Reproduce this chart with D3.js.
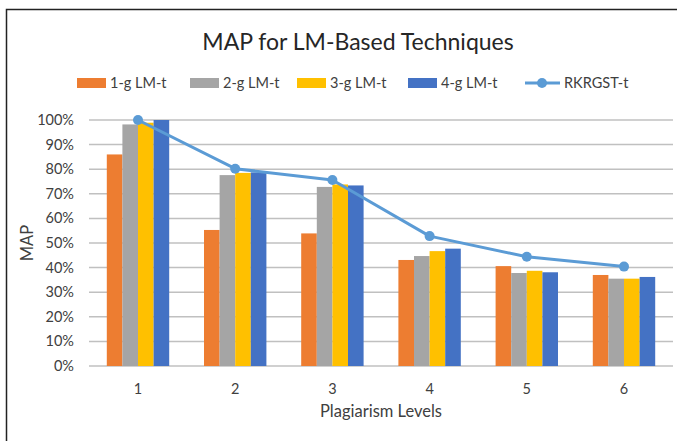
<!DOCTYPE html>
<html><head><meta charset="utf-8">
<script src="https://cdn.jsdelivr.net/npm/d3@7"></script>
<style>body{margin:0;background:#fff;}svg{display:block;}</style>
</head><body>
<svg id="c" width="677" height="441"></svg>
<script>
const categories = ["1","2","3","4","5","6"];
const seriesNames = ["1-g LM-t","2-g LM-t","3-g LM-t","4-g LM-t"];
const gram1 = [0.86, 0.553, 0.539, 0.431, 0.406, 0.370];
const gram2 = [0.982, 0.776, 0.728, 0.447, 0.378, 0.355];
const gram3 = [0.989, 0.785, 0.738, 0.467, 0.387, 0.355];
const gram4 = [1.0, 0.787, 0.734, 0.477, 0.381, 0.362];
const rkrgst = [1.0, 0.802, 0.756, 0.528, 0.444, 0.404];
const lineName = "RKRGST-t";
const yTicks = [0,0.1,0.2,0.3,0.4,0.5,0.6,0.7,0.8,0.9,1.0];
const colors = ["#ED7D31","#A5A5A5","#FFC000","#4472C4"];
const lineColor = "#5B9BD5";
const barSeries = [gram1, gram2, gram3, gram4];
const font = "Lato, 'Open Sans', sans-serif";

const svg = d3.select("#c");
svg.append("path").attr("d","M6.5,441 V9.5 H677").attr("fill","none").attr("stroke","#222").attr("stroke-width",1.5);

const y = d3.scaleLinear().domain([0,1]).range([366,120]);
const x0 = d3.scaleBand().domain(categories).range([89.4,672.6]).paddingInner(0.358).paddingOuter(0.179);
const x1 = d3.scaleBand().domain(seriesNames).range([0,x0.bandwidth()]);

svg.append("g").selectAll("line").data(yTicks).join("line")
  .attr("x1",89).attr("x2",673).attr("y1",d=>y(d)).attr("y2",d=>y(d))
  .attr("stroke","#c0c0c0").attr("stroke-width",1.5);

svg.append("g").selectAll("text").data(yTicks).join("text")
  .attr("x",74).attr("y",d=>y(d)).attr("dy","0.35em").attr("text-anchor","end")
  .attr("font-family",font).attr("font-size",14.5).attr("fill","#404040")
  .text(d=>d3.format(".0%")(d));

const g = svg.append("g");
categories.forEach((c,i)=>{
  seriesNames.forEach((s,j)=>{
    g.append("rect").attr("x",x0(c)+x1(s)).attr("width",x1.bandwidth())
      .attr("y",y(barSeries[j][i])).attr("height",y(0)-y(barSeries[j][i]))
      .attr("fill",colors[j]);
  });
});

const lineGen = d3.line().x((d,i)=>x0(categories[i])+x0.bandwidth()/2).y(d=>y(d));
svg.append("path").datum(rkrgst).attr("d",lineGen).attr("fill","none")
  .attr("stroke",lineColor).attr("stroke-width",3).attr("stroke-linejoin","round");
svg.append("g").selectAll("circle").data(rkrgst).join("circle")
  .attr("cx",(d,i)=>x0(categories[i])+x0.bandwidth()/2).attr("cy",d=>y(d)).attr("r",5)
  .attr("fill",lineColor);

svg.append("g").selectAll("text").data(categories).join("text")
  .attr("x",d=>x0(d)+x0.bandwidth()/2).attr("y",389).attr("dy","0.35em").attr("text-anchor","middle")
  .attr("font-family",font).attr("font-size",14.5).attr("fill","#404040").text(d=>d);

svg.append("text").attr("x",381).attr("y",411).attr("dy","0.35em").attr("text-anchor","middle")
  .attr("font-family",font).attr("font-size",16.5).attr("fill","#404040").text("Plagiarism Levels");
svg.append("text").attr("transform","translate(27,243) rotate(-90)").attr("dy","0.35em").attr("text-anchor","middle")
  .attr("font-family",font).attr("font-size",16.5).attr("fill","#404040").text("MAP");

svg.append("text").attr("x",358).attr("y",42).attr("dy","0.35em").attr("text-anchor","middle")
  .attr("font-family",font).attr("font-size",23).attr("fill","#262626").text("MAP for LM-Based Techniques");

const legX = [77,190,297,408];
seriesNames.forEach((s,j)=>{
  svg.append("rect").attr("x",legX[j]).attr("y",78).attr("width",29).attr("height",10).attr("fill",colors[j]);
  svg.append("text").attr("x",legX[j]+33).attr("y",83).attr("dy","0.35em")
    .attr("font-family",font).attr("font-size",14.5).attr("fill","#404040").text(s);
});
svg.append("line").attr("x1",525).attr("x2",560).attr("y1",83).attr("y2",83).attr("stroke",lineColor).attr("stroke-width",3);
svg.append("circle").attr("cx",542).attr("cy",83).attr("r",5).attr("fill",lineColor);
svg.append("text").attr("x",564).attr("y",83).attr("dy","0.35em")
  .attr("font-family",font).attr("font-size",14.5).attr("fill","#404040").text(lineName);
</script>
</body></html>
